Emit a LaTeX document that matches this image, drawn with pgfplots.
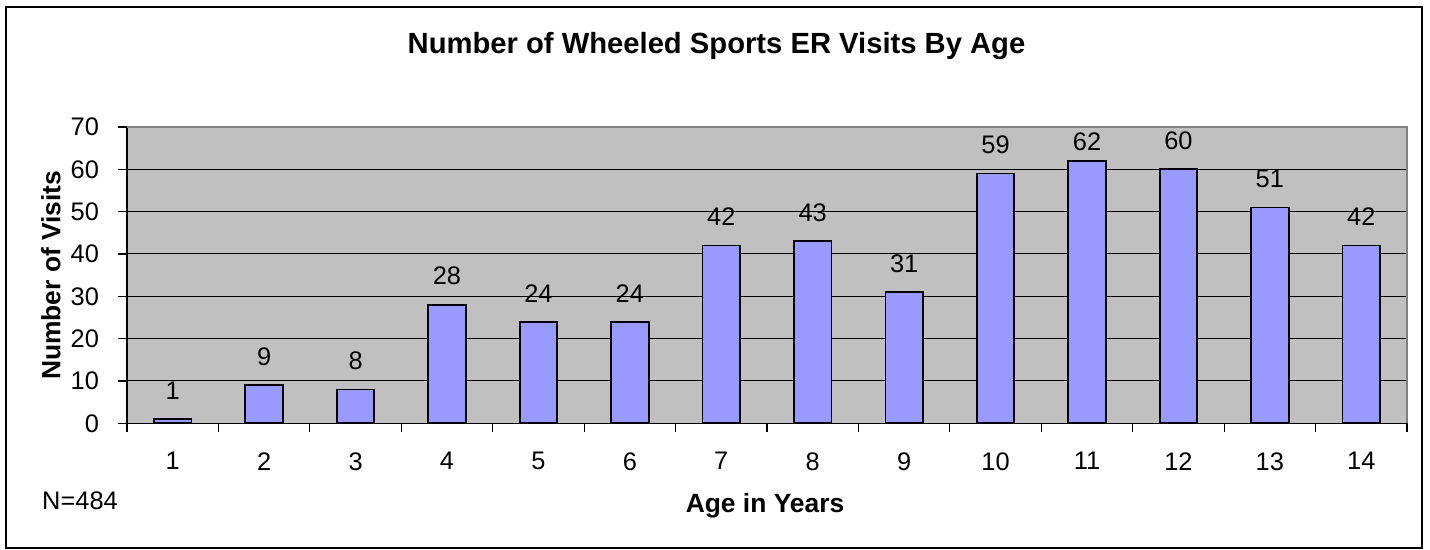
\documentclass[border=0pt]{standalone}
\usepackage{fontspec}
\setmainfont{Liberation Sans}
\usepackage{pgfplots}
\pgfplotsset{compat=1.18}
\definecolor{plotbg}{HTML}{C0C0C0}
\definecolor{barfill}{HTML}{9999FF}
\definecolor{bordergray}{HTML}{808080}
\begin{document}
\begin{tikzpicture}
\useasboundingbox (-63.5pt,-63.35pt) rectangle (651.5pt,211.65pt);
\draw[line width=0.6pt] (-60.5pt,-62.4pt) rectangle (647.5pt,208.15pt);
\begin{axis}[
  at={(0pt,0pt)}, anchor=south west,
  scale only axis,
  width=640pt, height=148.15pt,
  xmin=0.5, xmax=14.5, ymin=0, ymax=70,
  axis lines*=left,
  axis line style={black, line width=0.6pt},
  axis background/.style={fill=plotbg},
  ytick={0,10,...,70},
  xtick={0.5,1.5,...,14.5},
  xticklabels={1,2,3,4,5,6,7,8,9,10,11,12,13,14,{}},
  major tick length=4.5pt,
  tick align=outside,
  tick style={black, line width=0.6pt},
  ymajorgrids,
  major grid style={black, line width=0.5pt},
  /pgf/number format/assume math mode=true,
  ticklabel style={font=\fontsize{12.7}{15}\selectfont},
  xticklabel style={yshift=-6.5pt, xshift=22.86pt},
  yticklabel style={xshift=-6pt},
  ybar, bar width=0.41,
  visualization depends on={y \as \yval},
  nodes near coords,
  nodes near coords style={font=\fontsize{12.7}{15}\selectfont, yshift={(\yval>61)?1.5:6}},
  clip=false,
]
\addplot[fill=barfill, draw=black, line width=0.9pt] coordinates {
(1,1) (2,9) (3,8) (4,28) (5,24) (6,24) (7,42) (8,43) (9,31) (10,59) (11,62) (12,60) (13,51) (14,42)
};
\draw[bordergray, line width=0.8pt] (rel axis cs:0,1) -- (rel axis cs:1,1) -- (rel axis cs:1,0);
\end{axis}
\node[font=\bfseries\fontsize{14.6}{17}\selectfont] at (294.75pt,188.4pt) {Number of Wheeled Sports ER Visits By Age};
\node[font=\bfseries\fontsize{13.2}{15}\selectfont, rotate=90] at (-38pt,74pt) {Number of Visits};
\node[font=\bfseries\fontsize{13.2}{15}\selectfont] at (319pt,-41.4pt) {Age in Years};
\node[font=\fontsize{12.7}{15}\selectfont] at (-23.5pt,-38.6pt) {N=484};
\end{tikzpicture}
\end{document}
